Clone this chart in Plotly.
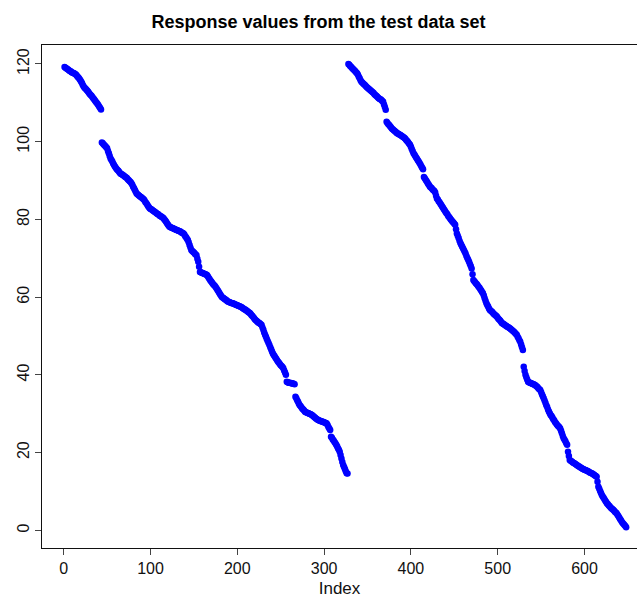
import plotly.graph_objects as go

# Response values (index 1..327 first run, 328..648 second run)
run1_values = [
    119.2, 119.0, 118.9, 118.7, 118.6, 118.4, 118.2, 118.1, 117.9, 117.8,
    117.7, 117.6, 117.4, 117.3, 117.0, 116.7, 116.5, 116.2, 115.9, 115.5,
    115.1, 114.6, 114.2, 113.9, 113.7, 113.4, 113.2, 112.9, 112.6, 112.3,
    112.0, 111.8, 111.5, 111.2, 110.9, 110.6, 110.3, 110.0, 109.7, 109.4,
    109.0, 108.7, 108.3, 99.8, 99.6, 99.3, 99.1, 98.8, 98.6, 98.3,
    97.6, 97.0, 96.3, 95.7, 95.3, 94.9, 94.4, 94.0, 93.6, 93.3,
    93.0, 92.7, 92.5, 92.2, 91.9, 91.7, 91.6, 91.4, 91.3, 91.1,
    90.9, 90.8, 90.6, 90.3, 90.1, 89.8, 89.6, 89.3, 88.9, 88.4,
    88.0, 87.6, 87.1, 86.7, 86.5, 86.3, 86.1, 85.9, 85.8, 85.6,
    85.4, 85.2, 84.9, 84.5, 84.2, 83.9, 83.5, 83.2, 82.9, 82.7,
    82.6, 82.4, 82.2, 82.1, 81.9, 81.8, 81.6, 81.4, 81.3, 81.1,
    80.9, 80.8, 80.6, 80.5, 80.3, 80.0, 79.7, 79.4, 79.0, 78.7,
    78.4, 78.1, 78.0, 77.9, 77.8, 77.7, 77.6, 77.5, 77.4, 77.3,
    77.2, 77.1, 77.0, 76.9, 76.8, 76.6, 76.5, 76.4, 76.1, 75.7,
    75.4, 75.0, 74.7, 74.1, 73.4, 72.8, 72.1, 71.9, 71.7, 71.5,
    71.2, 71.0, 70.8, 69.9, 69.1, 67.8, 66.5, 66.4, 66.3, 66.2,
    66.1, 66.0, 65.9, 65.8, 65.7, 65.4, 65.0, 64.7, 64.3, 64.0,
    63.7, 63.4, 63.1, 62.9, 62.6, 62.3, 61.9, 61.6, 61.2, 60.8,
    60.5, 60.1, 59.9, 59.8, 59.6, 59.4, 59.3, 59.1, 58.9, 58.8,
    58.7, 58.6, 58.5, 58.4, 58.4, 58.3, 58.2, 58.1, 58.0, 57.9,
    57.8, 57.7, 57.6, 57.5, 57.4, 57.2, 57.1, 56.9, 56.8, 56.6,
    56.5, 56.3, 56.1, 56.0, 55.8, 55.5, 55.2, 55.0, 54.7, 54.4,
    54.1, 53.9, 53.7, 53.5, 53.4, 53.2, 53.0, 52.8, 52.2, 51.6,
    50.9, 50.3, 49.8, 49.2, 48.7, 48.2, 47.7, 47.1, 46.6, 46.0,
    45.5, 45.1, 44.8, 44.4, 44.1, 43.7, 43.4, 43.1, 42.8, 42.5,
    42.3, 42.0, 41.7, 41.1, 40.6, 40.0, 38.2, 38.1, 38.0, 38.0,
    37.9, 37.9, 37.8, 37.8, 37.7, 37.6, 34.4, 34.0, 33.5, 33.1,
    32.6, 32.2, 31.9, 31.6, 31.3, 31.1, 30.8, 30.5, 30.4, 30.3,
    30.2, 30.1, 30.0, 29.9, 29.8, 29.7, 29.5, 29.3, 29.1, 28.9,
    28.7, 28.6, 28.4, 28.3, 28.2, 28.1, 28.0, 28.0, 27.9, 27.8,
    27.7, 27.6, 27.5, 27.1, 26.6, 26.2, 25.8, 24.1, 23.8, 23.4,
    23.1, 22.7, 22.4, 22.0, 21.6, 21.1, 20.7, 20.2, 19.4, 18.5,
    17.6, 16.8, 16.3, 15.8, 15.2, 14.7, 14.6,
]

run2_values = [
    120.0, 119.8, 119.5, 119.3, 119.0, 118.8, 118.6, 118.3, 118.1, 117.8,
    117.6, 117.2, 116.7, 116.3, 115.8, 115.4, 115.2, 115.0, 114.8, 114.6,
    114.3, 114.1, 113.9, 113.7, 113.5, 113.3, 113.1, 112.9, 112.7, 112.5,
    112.2, 112.0, 111.8, 111.6, 111.4, 111.2, 111.0, 110.9, 110.7, 110.5,
    110.3, 109.6, 108.9, 108.2, 105.1, 104.8, 104.5, 104.3, 104.0, 103.7,
    103.4, 103.2, 103.0, 102.8, 102.6, 102.4, 102.2, 102.1, 102.0, 101.8,
    101.7, 101.5, 101.4, 101.2, 101.1, 100.9, 100.6, 100.3, 100.1, 99.8,
    99.5, 99.2, 98.7, 98.1, 97.6, 97.0, 96.7, 96.3, 95.9, 95.6,
    95.2, 94.9, 94.5, 94.1, 93.7, 93.3, 92.9, 90.9, 90.6, 90.2,
    89.9, 89.5, 89.1, 88.8, 88.4, 88.2, 88.0, 87.7, 87.5, 87.3,
    86.9, 86.1, 85.4, 85.1, 84.7, 84.4, 84.0, 83.7, 83.3, 83.0,
    82.6, 82.3, 81.9, 81.6, 81.3, 80.9, 80.6, 80.3, 80.0, 79.7,
    79.4, 79.2, 78.9, 78.6, 77.5, 76.4, 75.8, 75.2, 74.5, 73.9,
    73.5, 73.0, 72.6, 72.1, 71.7, 71.2, 70.6, 70.1, 69.6, 69.1,
    68.5, 68.0, 67.4, 65.9, 64.4, 64.1, 63.8, 63.5, 63.3, 63.0,
    62.7, 62.4, 62.0, 61.7, 61.3, 61.0, 60.4, 59.7, 59.1, 58.4,
    58.0, 57.6, 57.1, 56.7, 56.5, 56.3, 56.1, 55.8, 55.6, 55.4,
    55.2, 55.0, 54.7, 54.4, 54.2, 53.9, 53.6, 53.3, 53.2, 53.0,
    52.9, 52.7, 52.6, 52.4, 52.3, 52.1, 52.0, 51.8, 51.6, 51.4,
    51.2, 51.0, 50.8, 50.5, 50.3, 49.8, 49.4, 48.9, 48.5, 47.8,
    47.1, 46.4, 42.1, 41.0, 40.0, 39.4, 38.8, 38.2, 38.1, 38.0,
    37.9, 37.8, 37.7, 37.6, 37.5, 37.4, 37.2, 37.0, 36.8, 36.5,
    36.3, 36.1, 35.6, 35.0, 34.5, 34.0, 33.4, 32.8, 32.2, 31.7,
    31.1, 30.6, 30.1, 29.7, 29.4, 29.0, 28.6, 28.3, 27.9, 27.6,
    27.3, 27.0, 26.8, 26.5, 26.2, 25.6, 25.0, 24.3, 23.7, 23.3,
    22.9, 22.4, 22.0, 20.2, 19.1, 18.1, 17.9, 17.8, 17.6, 17.4,
    17.3, 17.1, 17.0, 16.8, 16.7, 16.5, 16.4, 16.2, 16.1, 16.0,
    15.8, 15.7, 15.6, 15.5, 15.4, 15.3, 15.2, 15.1, 14.9, 14.8,
    14.7, 14.6, 14.4, 14.3, 14.1, 14.0, 13.8, 12.5, 11.2, 10.7,
    10.1, 9.6, 9.1, 8.7, 8.4, 8.0, 7.6, 7.3, 6.9, 6.7,
    6.4, 6.2, 5.9, 5.7, 5.5, 5.3, 5.1, 4.8, 4.6, 4.4,
    4.0, 3.7, 3.3, 2.9, 2.6, 2.2, 1.9, 1.6, 1.4, 1.1,
    0.8,
]

response = run1_values + run2_values
index = list(range(1, len(response) + 1))

x_ticks = [0, 100, 200, 300, 400, 500, 600]
y_ticks = [0, 20, 40, 60, 80, 100, 120]

FONT = "Liberation Sans, Arial, Helvetica, sans-serif"

fig = go.Figure()
fig.add_trace(go.Scatter(
    x=index, y=response, mode="markers",
    marker=dict(color="#0000FF", size=6.5, line=dict(width=0)),
    showlegend=False, hoverinfo="x+y",
))

fig.update_layout(
    width=637, height=598,
    margin=dict(l=42, r=0, t=45, b=50),
    paper_bgcolor="white", plot_bgcolor="white",
    font=dict(family=FONT, size=16, color="#111111"),
    title=dict(
        text="<b>Response values from the test data set</b>",
        font=dict(family=FONT, size=18, color="#000000"),
        x=0.5, xref="container", xanchor="center",
        y=1 - 22 / 598, yref="container", yanchor="middle",
    ),
    xaxis=dict(
        range=[-25.0, 660.5], tickvals=x_ticks, ticks="outside", ticklen=6,
        tickcolor="#444444", showline=True, linecolor="#111111", linewidth=1,
        mirror=True, showgrid=False, zeroline=False,
        title=dict(text="Index", standoff=5, font=dict(size=17)),
        tickfont=dict(size=16),
    ),
    yaxis=dict(
        range=[-4.55, 124.88], tickvals=y_ticks, ticks="outside", ticklen=6,
        tickcolor="#444444", showline=True, linecolor="#111111", linewidth=1,
        mirror=False, showgrid=False, zeroline=False, tickangle=-90,
        tickfont=dict(size=16),
    ),
)

fig.write_html("out.html")
